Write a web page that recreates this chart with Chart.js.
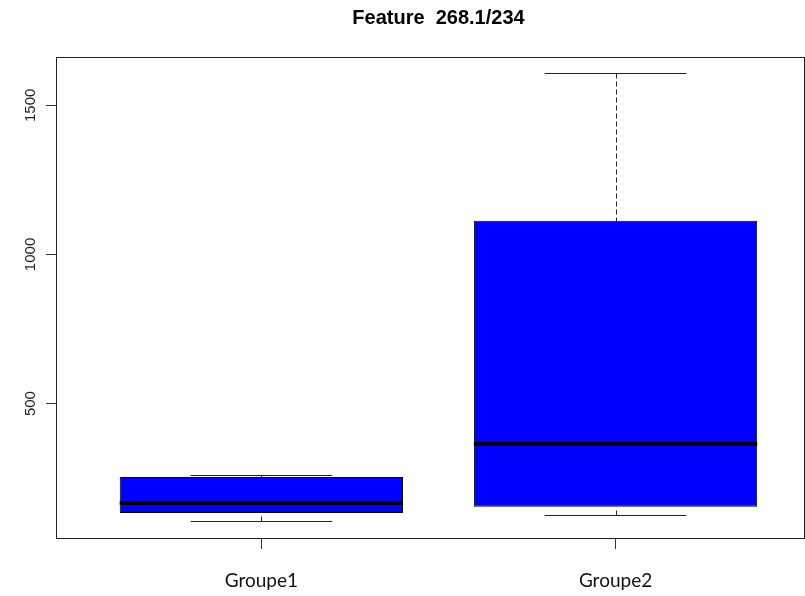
<!DOCTYPE html>
<html>
<head>
<meta charset="utf-8">
<script src="https://cdn.jsdelivr.net/npm/chart.js@4/dist/chart.umd.min.js"></script>
<style>
  html, body { margin: 0; padding: 0; background: #fff; }
  canvas { display: block; }
</style>
</head>
<body>
<canvas id="chart" width="805" height="596"></canvas>
<script>
// Five-number summaries per group
const categories  = ['Groupe1', 'Groupe2'];
const whiskerLow  = [107, 126];
const q1          = [133, 154];
const median      = [167, 365];
const q3          = [254, 1113];
const whiskerHigh = [261, 1607];
const yTicks      = [500, 1000, 1500];
const chartTitle  = 'Feature  268.1/234';

const INK = '#222';

// Whiskers, staples and medians drawn on top of the floating bars (the boxes)
const boxExtras = {
  id: 'boxExtras',
  afterDatasetsDraw(chart) {
    const { ctx, scales: { x, y } } = chart;
    ctx.save();
    categories.forEach((c, i) => {
      const pos = i + 1;
      const cx = Math.round(x.getPixelForValue(pos)) + 0.5;
      const capL = x.getPixelForValue(pos - 0.2);
      const capR = x.getPixelForValue(pos + 0.2);
      const boxL = x.getPixelForValue(pos - 0.4);
      const boxR = x.getPixelForValue(pos + 0.4);
      const py = v => Math.round(y.getPixelForValue(v)) + 0.5;

      // dashed whiskers, drawn from the extreme toward the box
      ctx.strokeStyle = INK;
      ctx.lineWidth = 1;
      ctx.setLineDash([5, 3]);
      ctx.beginPath();
      ctx.moveTo(cx, py(whiskerHigh[i])); ctx.lineTo(cx, py(q3[i]));
      ctx.moveTo(cx, py(whiskerLow[i]));  ctx.lineTo(cx, py(q1[i]));
      ctx.stroke();

      // staples
      ctx.setLineDash([]);
      ctx.beginPath();
      ctx.moveTo(capL, py(whiskerHigh[i])); ctx.lineTo(capR, py(whiskerHigh[i]));
      ctx.moveTo(capL, py(whiskerLow[i]));  ctx.lineTo(capR, py(whiskerLow[i]));
      ctx.stroke();

      // median
      ctx.strokeStyle = '#000';
      ctx.lineWidth = 4;
      ctx.beginPath();
      ctx.moveTo(boxL, y.getPixelForValue(median[i]));
      ctx.lineTo(boxR, y.getPixelForValue(median[i]));
      ctx.stroke();
    });
    ctx.restore();
  },
  afterDraw(chart) {
    const { ctx, chartArea: a, scales: { x } } = chart;
    ctx.save();
    // frame around the plotting region
    ctx.strokeStyle = INK;
    ctx.lineWidth = 1;
    ctx.strokeRect(a.left + 0.5, a.top + 0.5, a.right - a.left - 1, a.bottom - a.top - 1);
    // title, centred over the full plotting region
    const cx = (x.getPixelForValue(0.42) + x.getPixelForValue(2.58)) / 2;
    ctx.fillStyle = '#000';
    ctx.font = 'bold 20px "Liberation Sans", Arial, sans-serif';
    ctx.textAlign = 'center';
    ctx.textBaseline = 'alphabetic';
    ctx.fillText(chartTitle, cx, 24);
    ctx.restore();
  }
};

new Chart(document.getElementById('chart'), {
  type: 'bar',
  data: {
    datasets: [{
      data: categories.map((c, i) => ({ x: i + 1, y: [q1[i], q3[i]] })),
      backgroundColor: '#0000ff',
      borderColor: '#000',
      borderWidth: 1,
      borderSkipped: false,
      barPercentage: 0.8,
      categoryPercentage: 1.0
    }]
  },
  options: {
    responsive: false,
    animation: false,
    devicePixelRatio: 1,
    layout: { padding: { top: 57, left: 0, right: 0, bottom: 0 } },
    plugins: { legend: { display: false }, tooltip: { enabled: false }, title: { display: false } },
    scales: {
      x: {
        type: 'linear',
        offset: false,
        min: 0.42,
        max: 2.535,
        afterBuildTicks: s => { s.ticks = categories.map((c, i) => ({ value: i + 1 })); },
        afterFit: s => { s.height = 57; },
        grid: { offset: false, drawOnChartArea: false, drawTicks: true, tickLength: 10, color: '#333' },
        border: { display: false },
        ticks: {
          callback: v => categories[v - 1],
          color: '#111',
          font: { family: 'Lato', size: 19 },
          padding: 20,
          maxRotation: 0
        }
      },
      y: {
        type: 'linear',
        min: 46,
        max: 1662,
        afterBuildTicks: s => { s.ticks = yTicks.map(v => ({ value: v })); },
        afterFit: s => { s.width = 56; },
        grid: { drawOnChartArea: false, drawTicks: true, tickLength: 10, color: '#333' },
        border: { display: false },
        ticks: {
          callback: v => String(v),
          color: '#222',
          font: { family: 'Liberation Sans', size: 15 },
          minRotation: 90,
          maxRotation: 90,
          crossAlign: 'center',
          padding: -2
        }
      }
    }
  },
  plugins: [boxExtras]
});
</script>
</body>
</html>
